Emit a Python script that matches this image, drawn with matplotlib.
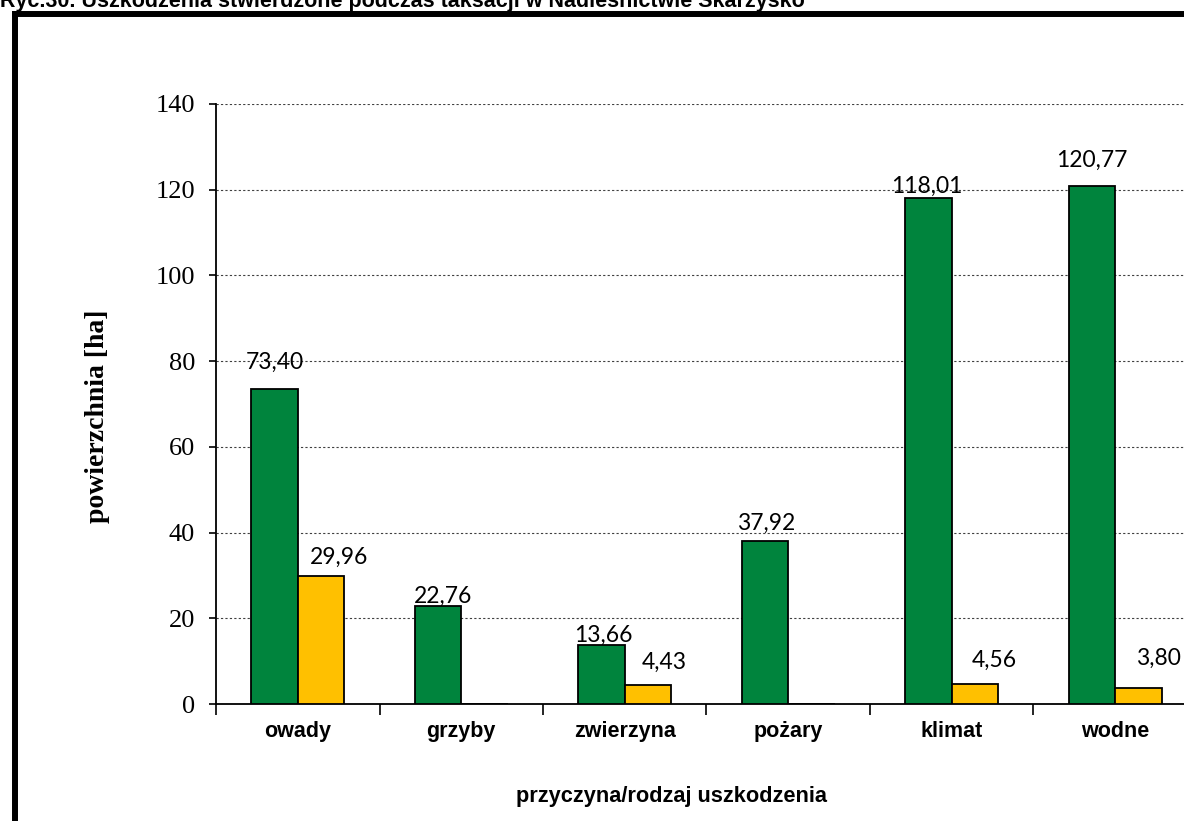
import matplotlib
matplotlib.use("Agg")
import matplotlib.pyplot as plt
from matplotlib.lines import Line2D
import numpy as np

# --- data ---
categories = ["owady", "grzyby", "zwierzyna", "pożary", "klimat", "wodne"]
green_vals = [73.40, 22.76, 13.66, 37.92, 118.01, 120.77]
yellow_vals = [29.96, None, 4.43, None, 4.56, 3.80]

# label offsets in pixels (dx, dy above bar top) - manual placement like in the original
green_off = [(0, 27), (5, 10), (2, 10), (1, 18), (-2, 12), (0, 26)]
yellow_off = [(18, 18), (0, 0), (16, 23), (0, 0), (19, 24), (20, 29)]

W, H = 1184, 821
fig = plt.figure(figsize=(W / 100, H / 100), dpi=100)

# outer frame (only left and top edges are visible)
fig.add_artist(Line2D([14.5 / W, 14.5 / W], [0, 1 - 14 / H], color="black", lw=4.3,
                      solid_capstyle="projecting"))
fig.add_artist(Line2D([14.5 / W, 1.0], [1 - 14 / H, 1 - 14 / H], color="black", lw=4.3,
                      solid_capstyle="projecting"))

# title - top part is cut off in the original
fig.text(0.0 / W, 1 - 7 / H, "Ryc.30. Uszkodzenia stwierdzone podczas taksacji w Nadleśnictwie Skarżysko",
         fontsize=15.5, fontweight="bold", family="Liberation Sans", va="baseline", ha="left")

ax = fig.add_axes([216 / W, 1 - 704 / H, (1197 - 216) / W, (704 - 104) / H])
ax.set_facecolor("none")

x = np.arange(len(categories))
bw = 0.285
g = np.array(green_vals, dtype=float)
y = np.array([v if v is not None else np.nan for v in yellow_vals], dtype=float)

ax.bar(x - bw / 2, g, width=bw, color="#00843D", edgecolor="black", linewidth=1.3, zorder=3)
ax.bar(x + bw / 2, np.nan_to_num(y), width=bw, color="#FFC000", edgecolor="black", linewidth=1.3, zorder=3)

for i, v in enumerate(g):
    dx, dy = green_off[i]
    ax.annotate(f"{v:.2f}".replace(".", ","), (x[i] - bw / 2, v), xytext=(dx * 0.72, dy * 0.72),
                textcoords="offset points", ha="center", va="center",
                fontsize=16.5, family="Lato", zorder=4)
for i, v in enumerate(y):
    if np.isnan(v):
        continue
    dx, dy = yellow_off[i]
    ax.annotate(f"{v:.2f}".replace(".", ","), (x[i] + bw / 2, v), xytext=(dx * 0.72, dy * 0.72),
                textcoords="offset points", ha="center", va="center",
                fontsize=16.5, family="Lato", zorder=4)

ax.set_xlim(-0.5, len(categories) - 0.5)
ax.set_ylim(0, 140)
ax.set_yticks(np.arange(0, 141, 20))
ax.set_yticklabels([str(t) for t in range(0, 141, 20)], family="Liberation Serif", fontsize=19)
ax.yaxis.grid(True, linestyle=(0, (2, 2)), color="#404040", linewidth=0.8, zorder=0)

# category boundaries as ticks, labels centred
ax.set_xticks(np.arange(-0.5, len(categories), 1.0))
ax.set_xticklabels([])
ax.set_xticks(x, minor=True)
ax.set_xticklabels(categories, minor=True, fontsize=15.5, fontweight="bold", family="Liberation Sans")
ax.tick_params(axis="x", which="minor", length=0, pad=12)
ax.tick_params(axis="x", which="major", length=8, width=1.2, direction="out")
ax.tick_params(axis="y", length=5, width=1.2, direction="out", pad=10)

for s in ["top", "right"]:
    ax.spines[s].set_visible(False)
ax.spines["left"].set_linewidth(1.3)
ax.spines["bottom"].set_linewidth(1.3)

# axis titles placed like in the original (not centred on the axes)
fig.text(97 / W, 1 - 416 / H, "powierzchnia [ha]", family="Liberation Serif", fontweight="bold",
         fontsize=20, rotation=90, ha="center", va="center")
fig.text(671 / W, 1 - 796 / H, "przyczyna/rodzaj uszkodzenia", family="Liberation Sans",
         fontweight="bold", fontsize=15.7, ha="center", va="center")

fig.savefig("out.png", dpi=100)
